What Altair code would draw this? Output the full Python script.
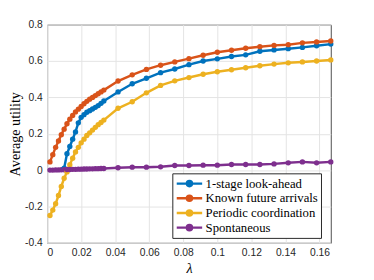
import altair as alt
import pandas as pd

lam = [0.00167, 0.00333, 0.005, 0.00667, 0.00833, 0.01, 0.01167, 0.01333, 0.015, 0.01667,
       0.01833, 0.02, 0.02167, 0.02333, 0.025, 0.02667, 0.02833, 0.03, 0.03167, 0.03333,
       0.04167, 0.05, 0.05833, 0.06667, 0.075, 0.08333, 0.09167, 0.1, 0.10833, 0.11667,
       0.125, 0.13333, 0.14167, 0.15, 0.15833, 0.16667]

lookahead = [None, None, None, None, None, 0.01, 0.09, 0.13, 0.17, 0.21,
             0.26, 0.29, 0.305, 0.318, 0.327, 0.336, 0.345, 0.355, 0.367, 0.38,
             0.43, 0.475, 0.505, 0.536, 0.556, 0.58, 0.60, 0.612, 0.625, 0.634,
             0.654, 0.661, 0.668, 0.675, 0.684, 0.693]

known = [0.045, 0.085, 0.125, 0.16, 0.195, 0.225, 0.255, 0.28, 0.30, 0.32,
         0.335, 0.35, 0.365, 0.378, 0.39, 0.40, 0.41, 0.42, 0.43, 0.44,
         0.49, 0.524, 0.554, 0.577, 0.595, 0.613, 0.632, 0.648, 0.659, 0.67,
         0.679, 0.686, 0.69, 0.70, 0.705, 0.71]

periodic = [-0.25, -0.22, -0.185, -0.14, -0.09, -0.045, -0.01, 0.03, 0.065, 0.10,
            0.125, 0.15, 0.17, 0.19, 0.205, 0.22, 0.235, 0.25, 0.262, 0.275,
            0.34, 0.376, 0.425, 0.466, 0.491, 0.509, 0.527, 0.541, 0.552, 0.563,
            0.574, 0.583, 0.59, 0.595, 0.60, 0.606]

spontaneous = [0.0, 0.0, 0.001, 0.001, 0.002, 0.002, 0.003, 0.003, 0.004, 0.004,
               0.005, 0.005, 0.006, 0.006, 0.007, 0.007, 0.008, 0.008, 0.009, 0.009,
               0.013, 0.016, 0.016, 0.018, 0.025, 0.025, 0.027, 0.027, 0.031, 0.031,
               0.031, 0.034, 0.04, 0.045, 0.04, 0.045]

series_names = ["1-stage look-ahead", "Known future arrivals", "Periodic coordination", "Spontaneous"]
series_vals = [lookahead, known, periodic, spontaneous]
colors = ["#0072BD", "#D95319", "#EDB120", "#7E2F8E"]

x_ticks = [0, 0.02, 0.04, 0.06, 0.08, 0.1, 0.12, 0.14, 0.16]
y_ticks = [-0.4, -0.2, 0, 0.2, 0.4, 0.6, 0.8]

rows = []
for name, vals in zip(series_names, series_vals):
    for x, y in zip(lam, vals):
        if y is not None:
            rows.append({"lam": x, "u": y, "series": name})
df = pd.DataFrame(rows)

color = alt.Color(
    "series:N",
    scale=alt.Scale(domain=series_names, range=colors),
    sort=series_names,
    legend=alt.Legend(
        title=None,
        orient="none",
        legendX=128,
        legendY=152,
        symbolType="M-1,0L1,0M-0.2,0A0.2,0.2,0,1,1,0.2,0A0.2,0.2,0,1,1,-0.2,0Z",
        symbolSize=676,
        symbolStrokeWidth=2.5,
        clipHeight=15,
        labelFont="Liberation Serif",
        labelFontSize=13,
        labelColor="#000000",
        labelOffset=2,
        padding=3,
        rowPadding=0,
        strokeColor="#262626",
        fillColor="#ffffff",
    ),
)

x = alt.X("lam:Q",
          scale=alt.Scale(domain=[0, 0.16667], nice=False, zero=False),
          axis=alt.Axis(values=x_ticks, title="λ",
                        labelExpr="'' + round(datum.value*100)/100"))
y = alt.Y("u:Q",
          scale=alt.Scale(domain=[-0.4, 0.8], nice=False),
          axis=alt.Axis(values=y_ticks, title="Average utility",
                        labelExpr="'' + round(datum.value*10)/10"))

base = alt.Chart(df).encode(x=x, y=y, color=color, order="lam:Q")
lines = base.mark_line(strokeWidth=2.5)
points = base.mark_circle(size=30, opacity=1)

chart = (lines + points).properties(
    width=290, height=223,
    autosize=alt.AutoSizeParams(type="none"),
    padding={"left": 40, "top": 14, "right": 36, "bottom": 35},
).configure_view(
    stroke="#4d4d4d", strokeWidth=1
).configure_axis(
    grid=True,
    gridColor="#e3e3e3",
    gridWidth=1,
    domain=False,
    ticks=False,
    labelFont="Liberation Sans",
    labelFontSize=10.5,
    labelColor="#262626",
    labelPadding=5,
    titleFont="Liberation Serif",
    titleFontSize=14.5,
    titleFontWeight="normal",
    titleColor="#000000",
).configure_axisX(
    titleFontStyle="italic",
    titlePadding=4,
).configure_axisY(
    titlePadding=2,
)

chart.save("out.html", embed_options={"renderer": "svg", "actions": False})
